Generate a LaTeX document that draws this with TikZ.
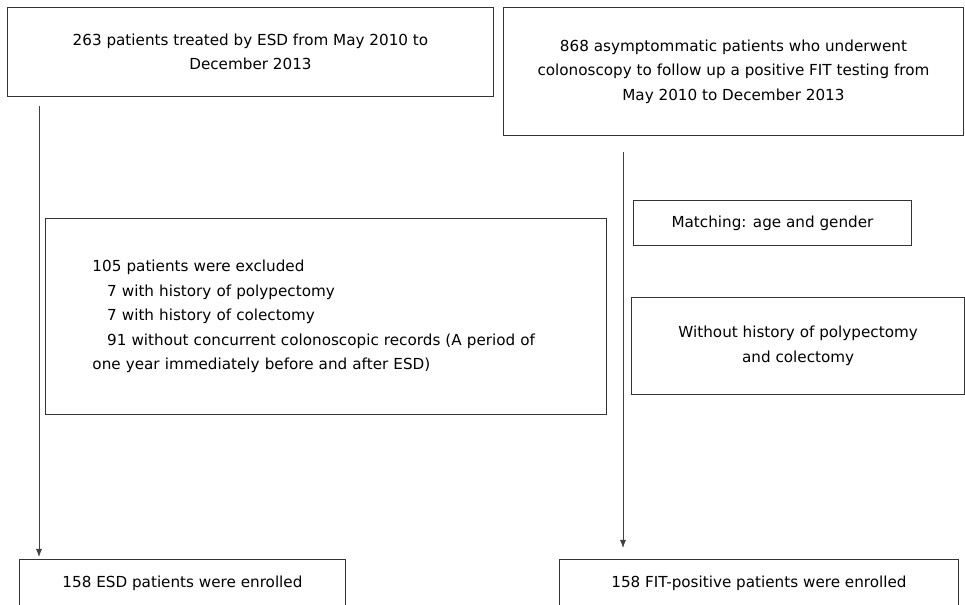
\documentclass[tikz,border=0pt]{standalone}
\usepackage{fontspec}
\setmainfont{DejaVu Sans}
\usetikzlibrary{arrows.meta}

\tikzset{
    box/.style={draw=black!80, line width=0.7pt, anchor=north west, inner sep=0pt,
        align=center, font=\fontsize{11.4}{18.4}\selectfont},
    flow/.style={draw=black!75, line width=0.6pt, -{Latex[length=6pt,width=4.5pt]}}
}

\begin{document}
\begin{tikzpicture}[x=0.75pt, y=-0.75pt]
            \useasboundingbox (0, 0) rectangle (965, 605);
            \clip (0, 0) rectangle (965, 605);

            % top row
            \node[box, minimum width=364.5pt, minimum height=66.75pt] (esdall) at (7, 7)
                {263 patients treated by ESD from May 2010 to\\December 2013};
            \node[box, minimum width=345pt, minimum height=96pt] (fitall) at (503, 7)
                {868 asymptommatic patients who underwent\\colonoscopy to follow up a positive FIT testing from\\May 2010 to December 2013};

            % middle
            \node[box, minimum width=420.75pt, minimum height=147pt, align=left,
                  inner xsep=35.25pt, text width=350.25pt] (excl) at (45, 218)
                {105 patients were excluded\\
                 \hspace*{11pt}7 with history of polypectomy\\
                 \hspace*{11pt}7 with history of colectomy\\
                 \hspace*{11pt}91 without concurrent colonoscopic records (A period of\\
                 one year immediately before and after ESD)};
            \node[box, minimum width=208.5pt, minimum height=33.75pt] (match) at (633, 200)
                {Matching: age and gender};
            \node[box, minimum width=250pt, minimum height=72.75pt] (nohist) at (631, 297)
                {Without history of polypectomy\\and colectomy};

            % bottom row
            \node[box, minimum width=244.5pt, minimum height=36pt] (esdin) at (19, 559)
                {158 ESD patients were enrolled};
            \node[box, minimum width=299.25pt, minimum height=36pt] (fitin) at (559, 559)
                {158 FIT-positive patients were enrolled};

            % arrows
            \coordinate (l0) at (39, 106);
            \coordinate (l1) at (39, 557);
            \coordinate (r0) at (623, 152);
            \coordinate (r1) at (623, 548);
            \draw[flow] (l0) -- (l1);
            \draw[flow] (r0) -- (r1);
\end{tikzpicture}
\end{document}
